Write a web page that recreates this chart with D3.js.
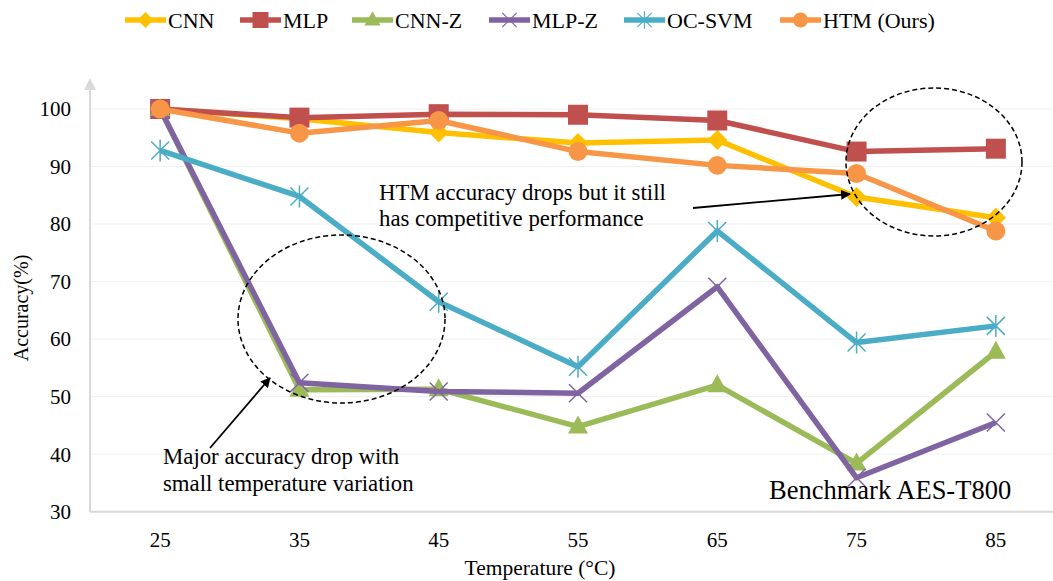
<!DOCTYPE html>
<html>
<head>
<meta charset="utf-8">
<script src="https://cdn.jsdelivr.net/npm/d3@7"></script>
<style>
  body { margin: 0; background: #fff; }
  svg { display: block; font-family: "Times New Roman", "Liberation Serif", serif; }
</style>
</head>
<body>
<div id="chart"></div>
<script>
// data
var temperatures = ["25", "35", "45", "55", "65", "75", "85"];
var yTicks = [30, 40, 50, 60, 70, 80, 90, 100];
var seriesNames = ["CNN", "MLP", "CNN-Z", "MLP-Z", "OC-SVM", "HTM (Ours)"];
var cnn    = [100, 98.3, 95.9, 94.1, 94.6, 84.7, 81.1];
var mlp    = [100, 98.5, 99.1, 99.0, 98.0, 92.6, 93.1];
var cnnZ   = [100, 51.2, 51.3, 44.8, 52.0, 38.4, 57.8];
var mlpZ   = [100, 52.4, 50.9, 50.6, 69.1, 35.9, 45.5];
var ocSvm  = [92.8, 84.8, 66.5, 55.2, 78.8, 59.4, 62.3];
var htm    = [100, 95.8, 98.0, 92.6, 90.2, 88.8, 78.8];

var colors = ["#FFC000", "#C0504D", "#9BBB59", "#8064A2", "#4BACC6", "#F79646"];
var markers = ["diamond", "square", "triangle", "cross", "star", "circle"];
var values = [cnn, mlp, cnnZ, mlpZ, ocSvm, htm];

var width = 1053, height = 581;
var svg = d3.select("#chart").append("svg").attr("width", width).attr("height", height);

var x = d3.scaleBand().domain(temperatures).range([90.5, 1065.5]).padding(0);
var y = d3.scaleLinear().domain([30, 100]).range([511.7, 109]);
var cx = function (t) { return x(t) + x.bandwidth() / 2; };

var defs = svg.append("defs");
defs.append("marker").attr("id", "arrow").attr("viewBox", "0 0 10 10")
  .attr("refX", 9).attr("refY", 5).attr("markerWidth", 10).attr("markerHeight", 10)
  .attr("markerUnits", "userSpaceOnUse").attr("orient", "auto")
  .append("path").attr("d", "M0,0 L10,5 L0,10 Z").attr("fill", "#000");
defs.append("marker").attr("id", "axisArrow").attr("viewBox", "0 0 10 10")
  .attr("refX", 5).attr("refY", 5).attr("markerWidth", 12).attr("markerHeight", 12)
  .attr("markerUnits", "userSpaceOnUse").attr("orient", "auto")
  .append("path").attr("d", "M0,0 L10,5 L0,10 Z").attr("fill", "#d9d9d9");

// gridlines
svg.append("g").selectAll("line").data(yTicks.slice(1)).enter().append("line")
  .attr("x1", 91).attr("x2", width).attr("y1", y).attr("y2", y)
  .attr("stroke", "#f0f0f0").attr("stroke-width", 1);

// axes
svg.append("line").attr("x1", 90).attr("x2", width).attr("y1", y(30)).attr("y2", y(30))
  .attr("stroke", "#d9d9d9").attr("stroke-width", 2);
svg.append("line").attr("x1", 90).attr("x2", 90).attr("y1", y(30)).attr("y2", 84)
  .attr("stroke", "#d9d9d9").attr("stroke-width", 2).attr("marker-end", "url(#axisArrow)");

svg.append("g").selectAll("text").data(yTicks).enter().append("text")
  .attr("x", 71).attr("y", y).attr("dy", "0.35em").attr("text-anchor", "end")
  .attr("font-size", 21).attr("fill", "#000").text(function (d) { return d; });

svg.append("g").selectAll("text").data(temperatures).enter().append("text")
  .attr("x", cx).attr("y", 540).attr("dy", "0.35em").attr("text-anchor", "middle")
  .attr("font-size", 21).attr("fill", "#000").text(function (d) { return d; });

svg.append("text").attr("x", 540).attr("y", 575).attr("text-anchor", "middle")
  .attr("font-size", 21.5).text("Temperature (\u00B0C)");
svg.append("text").attr("transform", "translate(28,308) rotate(-90)").attr("text-anchor", "middle")
  .attr("font-size", 20).text("Accuracy(%)");

// marker shapes
function markerPath(type) {
  if (type === "square") return "M-10,-10H10V10H-10Z";
  if (type === "diamond") return "M0,-10L10,0L0,10L-10,0Z";
  if (type === "triangle") return "M0,-11L10,7H-10Z";
  if (type === "circle") return d3.symbol().type(d3.symbolCircle).size(Math.PI * 90)();
  if (type === "cross") return "M-9,-9L9,9M-9,9L9,-9";
  if (type === "star") return "M-9,-9L9,9M-9,9L9,-9M0,-11V11";
  return "";
}
function isStroked(type) { return type === "cross" || type === "star"; }

var line = d3.line().x(function (d, i) { return cx(temperatures[i]); }).y(function (d) { return y(d); });

values.forEach(function (vals, s) {
  var g = svg.append("g");
  g.append("path").datum(vals).attr("d", line).attr("fill", "none")
    .attr("stroke", colors[s]).attr("stroke-width", 5.5).attr("stroke-linejoin", "round");
  g.selectAll("path.mk").data(vals).enter().append("path").attr("class", "mk")
    .attr("transform", function (d, i) { return "translate(" + cx(temperatures[i]) + "," + y(d) + ")"; })
    .attr("d", markerPath(markers[s]))
    .attr("fill", isStroked(markers[s]) ? "none" : colors[s])
    .attr("stroke", isStroked(markers[s]) ? colors[s] : "none")
    .attr("stroke-width", 1.5);
});

// legend
var legendX = [125, 240, 352, 489, 624, 780];
var legend = svg.append("g").selectAll("g").data(seriesNames).enter().append("g")
  .attr("transform", function (d, i) { return "translate(" + legendX[i] + ",20)"; });
legend.append("line").attr("x1", 0).attr("x2", 41).attr("y1", 0).attr("y2", 0)
  .attr("stroke", function (d, i) { return colors[i]; }).attr("stroke-width", 5.5);
legend.append("path").attr("transform", "translate(20.5,0) scale(0.8)")
  .attr("d", function (d, i) { return markerPath(markers[i]); })
  .attr("fill", function (d, i) { return isStroked(markers[i]) ? "none" : colors[i]; })
  .attr("stroke", function (d, i) { return isStroked(markers[i]) ? colors[i] : "none"; })
  .attr("stroke-width", 1.5);
legend.append("text").attr("x", 43).attr("y", 0).attr("dy", "0.35em")
  .attr("font-size", 22).text(function (d) { return d; });

// annotations
var ann = svg.append("g");
ann.append("ellipse").attr("cx", 341.5).attr("cy", 319).attr("rx", 103.5).attr("ry", 84)
  .attr("fill", "none").attr("stroke", "#000").attr("stroke-width", 1.5).attr("stroke-dasharray", "5,3");
ann.append("ellipse").attr("cx", 934).attr("cy", 162).attr("rx", 88).attr("ry", 74)
  .attr("fill", "none").attr("stroke", "#000").attr("stroke-width", 1.5).attr("stroke-dasharray", "5,3");
ann.append("line").attr("x1", 210).attr("y1", 448).attr("x2", 270).attr("y2", 378)
  .attr("stroke", "#000").attr("stroke-width", 1.8).attr("marker-end", "url(#arrow)");
ann.append("line").attr("x1", 693).attr("y1", 208).attr("x2", 850).attr("y2", 194)
  .attr("stroke", "#000").attr("stroke-width", 1.8).attr("marker-end", "url(#arrow)");

var t1 = ann.append("text").attr("font-size", 22.8);
t1.append("tspan").attr("x", 379).attr("y", 200).text("HTM accuracy drops but it still");
t1.append("tspan").attr("x", 379).attr("y", 226).text("has competitive performance");
var t2 = ann.append("text").attr("font-size", 22.8);
t2.append("tspan").attr("x", 163).attr("y", 464).text("Major accuracy drop with");
t2.append("tspan").attr("x", 163).attr("y", 491).text("small temperature variation");
ann.append("text").attr("x", 769).attr("y", 499).attr("font-size", 26.5).text("Benchmark AES-T800");
</script>
</body>
</html>
